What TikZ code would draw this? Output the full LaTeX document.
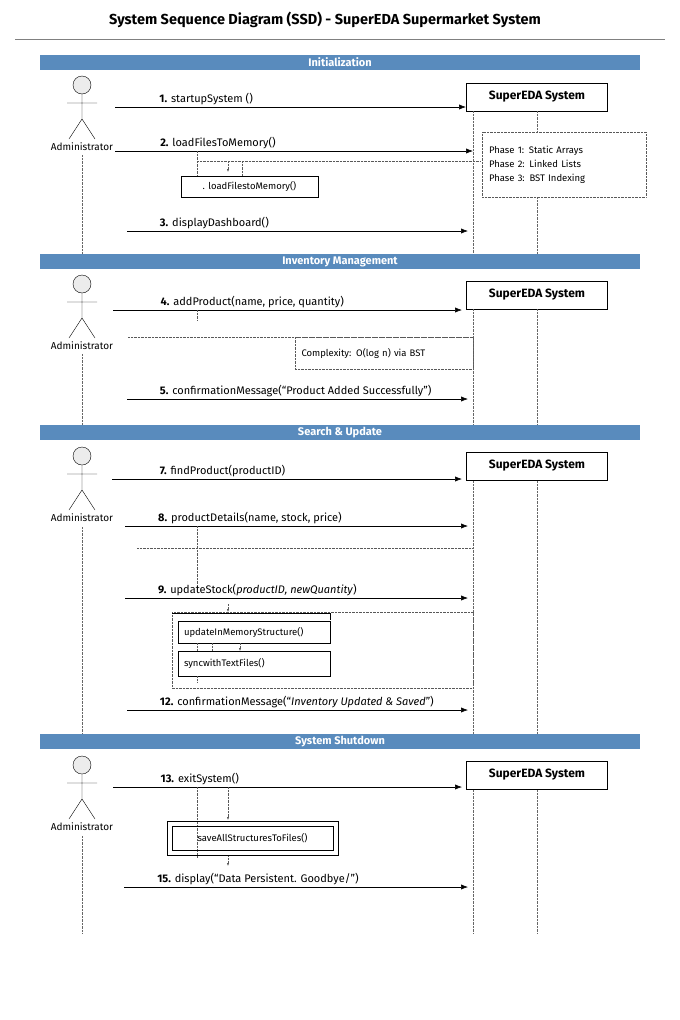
\documentclass[tikz,border=0pt]{standalone}
\usepackage{fontspec}
\setmainfont{Fira Sans}
\usetikzlibrary{arrows.meta}
\begin{document}
\begin{tikzpicture}[x=1pt,y=-1pt,
 sys/.style={draw,thick,minimum width=141pt,minimum height=28pt,font=\fontsize{12}{14}\selectfont\bfseries},
 msg/.style={-{Latex[length=7pt]},semithick},
 life/.style={densely dotted,gray!80!black,thin},
 lbl/.style={font=\fontsize{11}{13}\selectfont,anchor=south west,inner sep=2pt},
 small/.style={font=\fontsize{9.5}{11}\selectfont},
 dot/.style={densely dotted,gray!70!black},
 note/.style={draw=gray!70!black,densely dotted,text=black,small}]
\useasboundingbox (0,0) rectangle (680,1020);
\node[font=\fontsize{14.5}{17}\selectfont\bfseries] (title) at (325,20) {System Sequence Diagram (SSD) - SuperEDA Supermarket System};
\draw[gray] (15,39) -- (665,39);
\newcommand{\actor}[2]{%
 \draw[fill=gray!15] (82,#1) circle (9);
 \draw (82,#1+9) -- (82,#1+34) (67,#1+18) -- (97,#1+18)
   (82,#1+34) -- (69,#1+54) (82,#1+34) -- (95,#1+54);
 \node[font=\fontsize{10}{12}\selectfont] (#2) at (82,#1+62) {Administrator};}
\newcommand{\band}[3]{\fill[blue!50!cyan!60!black!65] (40,#1) rectangle (640,#1+15);
 \node[font=\bfseries\fontsize{11}{12}\selectfont,text=white] (#3) at (340,#1+7.5) {#2};}
% Section 1
\band{55}{Initialization}{b1}
\actor{85}{a1}
\node[sys] (s1) at (537,97) {SuperEDA System};
\draw[life] (82,155) -- (82,254);
\draw[life] (473,111) -- (473,254);
\draw[life] (537,111) -- (537,132) (537,197) -- (537,254);
\coordinate (m1a) at (115,107); \coordinate (m1b) at (466,107);
\draw[msg] (m1a) -- (m1b) node[lbl,pos=0.12] {\textbf{1.} startupSystem ()};
\coordinate (m2a) at (115,151); \coordinate (m2b) at (473,151);
\draw[msg] (m2a) -- (m2b) node[lbl,pos=0.12] {\textbf{2.} loadFilesToMemory()};
\draw[dot] (197,151) -- (197,176) (197,161) -- (480,161) (242,161) -- (242,176);
\draw[dot,-{Latex[length=3pt]}] (228,161) -- (228,172);
\node[draw,small,minimum width=137pt,minimum height=21pt] (lf) at (249.5,186.5) {. loadFilestoMemory()};
\node[note,align=left,minimum width=164pt,minimum height=65pt,text width=150pt] (ph) at (564,164.5) {Phase 1: Static Arrays\\[3pt]Phase 2: Linked Lists\\[3pt]Phase 3: BST Indexing};
\coordinate (m3a) at (127,231); \coordinate (m3b) at (468,231);
\draw[msg] (m3a) -- (m3b) node[lbl,pos=0.09] {\textbf{3.} displayDashboard()};
% Section 2
\band{254}{Inventory Management}{b2}
\actor{284}{a2}
\node[sys] (s2) at (537,295) {SuperEDA System};
\draw[life] (82,354) -- (82,425);
\draw[life] (473,309) -- (473,425);
\draw[life] (537,309) -- (537,425);
\coordinate (m4a) at (113,310); \coordinate (m4b) at (462,310);
\draw[msg] (m4a) -- (m4b) node[lbl,pos=0.13] {\textbf{4.} addProduct(name, price, quantity)};
\draw[dot] (197,310) -- (197,320);
\draw[dot] (128,337) -- (473,337);
\node[note,minimum width=178pt,minimum height=32pt,text width=165pt,align=left] (cx) at (384,353) {Complexity: O(log n) via BST};
\coordinate (m5a) at (127,399); \coordinate (m5b) at (468,399);
\draw[msg] (m5a) -- (m5b) node[lbl,pos=0.09] {\textbf{5.} confirmationMessage(``Product Added Successfully'')};
% Section 3
\band{425}{Search \& Update}{b3}
\actor{456}{a3}
\node[sys] (s3) at (537,466) {SuperEDA System};
\draw[life] (82,527) -- (82,734);
\draw[life] (473,481) -- (473,734);
\draw[life] (537,481) -- (537,734);
\coordinate (m7a) at (112,479); \coordinate (m7b) at (462,479);
\draw[msg] (m7a) -- (m7b) node[lbl,pos=0.13] {\textbf{7.} findProduct(productID)};
\coordinate (m8a) at (125,526); \coordinate (m8b) at (468,526);
\draw[msg] (m8a) -- (m8b) node[lbl,pos=0.09] {\textbf{8.} productDetails(name, stock, price)};
\draw[dot] (137,548) -- (473,548) (197,526) -- (197,590);
\coordinate (m9a) at (125,598); \coordinate (m9b) at (468,598);
\draw[msg] (m9a) -- (m9b) node[lbl,pos=0.09] {\textbf{9.} updateStock(\textit{productID, newQuantity})};
\draw[dot] (172,612) rectangle (473,688);
\draw (172,613) -- (330,613) -- (330,620);
\draw[dot,-{Latex[length=3pt]}] (228,604) -- (228,612);
\node[draw,small,minimum width=152pt,minimum height=22pt,text width=140pt] (um) at (254,632) {updateInMemoryStructure()};
\node[draw,small,minimum width=152pt,minimum height=25pt,text width=140pt] (sy) at (254,663.5) {syncwithTextFiles()};
\draw[dot,-{Latex[length=3pt]}] (240,643) -- (240,651);
\draw[dot] (197,643) -- (197,651) (212,643) -- (212,651) (197,676) -- (197,682);
\coordinate (m12a) at (127,710); \coordinate (m12b) at (468,710);
\draw[msg] (m12a) -- (m12b) node[lbl,pos=0.09] {\textbf{12.} confirmationMessage(``\textit{Inventory Updated \& Saved}'')};
% Section 4
\band{734}{System Shutdown}{b4}
\actor{765}{a4}
\node[sys] (s4) at (537,775) {SuperEDA System};
\draw[life] (82,836) -- (82,933);
\draw[life] (473,790) -- (473,933);
\draw[life] (537,790) -- (537,933);
\coordinate (m13a) at (113,787); \coordinate (m13b) at (462,787);
\draw[msg] (m13a) -- (m13b) node[lbl,pos=0.13] {\textbf{13.} exitSystem()};
\draw[dot] (197,787) -- (197,858);
\draw[dot,-{Latex[length=3pt]}] (228,787) -- (228,820);
\draw[dot,-{Latex[length=3pt]}] (228,855) -- (228,866);
\draw (167,821) rectangle (338,855);
\node[draw,small,minimum width=161pt,minimum height=24pt] (sv) at (252.5,838) {saveAllStructuresToFiles()};
\coordinate (m15a) at (124,887); \coordinate (m15b) at (468,887);
\draw[msg] (m15a) -- (m15b) node[lbl,pos=0.09] {\textbf{15.} display(``Data Persistent. Goodbye/'')};
\end{tikzpicture}
\end{document}
